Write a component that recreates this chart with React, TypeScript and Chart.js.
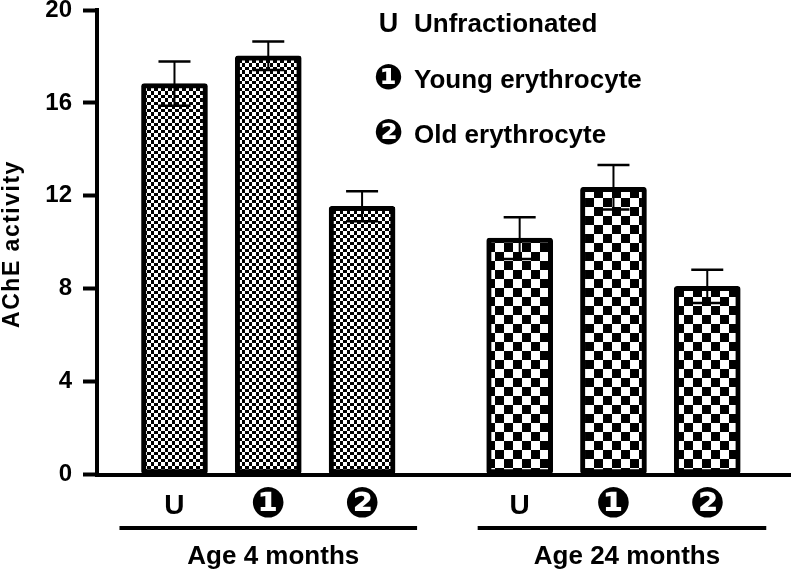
import React, { useEffect, useRef } from 'react';
import { Chart, registerables } from 'chart.js';

Chart.register(...registerables);

// ---- data ----
const groupLabels = ['Age 4 months', 'Age 24 months'];
const fractionSymbols = ['U', '❶', '❷'];
const fractionNames = ['Unfractionated', 'Young erythrocyte', 'Old erythrocyte'];
const meanAge4 = [16.83, 18.03, 11.55];
const meanAge24 = [10.18, 12.37, 8.1];
const semAge4 = [0.95, 0.61, 0.65];
const semAge24 = [0.9, 0.96, 0.72];
const yTicks = [0, 4, 8, 12, 16, 20];
const yTitle = 'AChE activity';

// ---- layout constants ----
const W = 792;
const H = 572;
const GROUP_STRIDE = 3.68;
const X_MIN = -0.826;
const X_MAX = 6.562;
const Y_AXIS_WIDTH = 97;
const X_AXIS_HEIGHT = 97.5;
const FONT = '"Liberation Sans", Arial, sans-serif';
const SYM_FONT = '"DejaVu Sans", sans-serif';
const GROUP_LINE_PAD: [number, number][] = [
  [55, 55],
  [42, 59],
];

const xPos = (g: number, i: number) => g * GROUP_STRIDE + i;
const tickPositions: number[] = [];
groupLabels.forEach((_, g) => fractionSymbols.forEach((__, i) => tickPositions.push(xPos(g, i))));

const isLetter = (s: string) => /^[A-Za-z]+$/.test(s);

function makeChecker(a: number, b: number): CanvasPattern | string {
  const size = a + b;
  const tile = document.createElement('canvas');
  tile.width = size;
  tile.height = size;
  const c = tile.getContext('2d');
  if (!c) return '#888';
  c.fillStyle = '#fff';
  c.fillRect(0, 0, size, size);
  c.fillStyle = '#000';
  c.fillRect(a, 0, b, a);
  c.fillRect(0, a, a, b);
  const main = document.createElement('canvas').getContext('2d');
  const p = main ? main.createPattern(tile, 'repeat') : null;
  return p || '#888';
}

const annotate = {
  id: 'annotate',
  afterDatasetsDraw(chart: any) {
    const ctx = chart.ctx as CanvasRenderingContext2D;
    const ys = chart.scales.y;
    const sems = [semAge4, semAge24];
    const means = [meanAge4, meanAge24];
    ctx.save();
    ctx.strokeStyle = '#000';
    chart.data.datasets.forEach((_: any, g: number) => {
      const meta = chart.getDatasetMeta(g);
      meta.data.forEach((el: any, i: number) => {
        const x = el.x;
        const top = ys.getPixelForValue(means[g][i] + sems[g][i]);
        const bot = ys.getPixelForValue(means[g][i] - sems[g][i]);
        ctx.lineWidth = 2;
        ctx.beginPath();
        ctx.moveTo(x, top);
        ctx.lineTo(x, bot);
        ctx.stroke();
        ctx.lineWidth = 2.5;
        ctx.beginPath();
        ctx.moveTo(x - 16, top);
        ctx.lineTo(x + 16, top);
        ctx.moveTo(x - 16, bot);
        ctx.lineTo(x + 16, bot);
        ctx.stroke();
      });
    });
    ctx.restore();
  },
  afterDraw(chart: any) {
    const ctx = chart.ctx as CanvasRenderingContext2D;
    const xs = chart.scales.x;
    const area = chart.chartArea;
    ctx.save();
    ctx.fillStyle = '#000';
    ctx.strokeStyle = '#000';

    // group lines and labels
    groupLabels.forEach((label, g) => {
      const x1 = xs.getPixelForValue(xPos(g, 0)) - GROUP_LINE_PAD[g][0];
      const x2 = xs.getPixelForValue(xPos(g, fractionSymbols.length - 1)) + GROUP_LINE_PAD[g][1];
      const ly = area.bottom + 53.5;
      ctx.lineWidth = 4;
      ctx.beginPath();
      ctx.moveTo(x1, ly);
      ctx.lineTo(x2, ly);
      ctx.stroke();
      ctx.font = `bold 26px ${FONT}`;
      ctx.textAlign = 'center';
      ctx.textBaseline = 'alphabetic';
      ctx.fillText(label, (x1 + x2) / 2 + 5, area.bottom + 89.5);
    });

    // legend
    const symX = 388.5;
    const textX = 414;
    const baselines = [32, 87.5, 143];
    fractionNames.forEach((name, i) => {
      const sym = fractionSymbols[i];
      ctx.textAlign = 'center';
      if (isLetter(sym)) {
        ctx.font = `bold 27px ${FONT}`;
        ctx.textBaseline = 'alphabetic';
        ctx.fillText(sym, symX, baselines[i]);
      } else {
        ctx.font = `bold 35px ${SYM_FONT}`;
        ctx.textBaseline = 'middle';
        ctx.fillText(sym, symX, baselines[i] - 8);
      }
      ctx.font = `bold 26px ${FONT}`;
      ctx.textBaseline = 'alphabetic';
      ctx.textAlign = 'left';
      ctx.fillText(name, textX, baselines[i]);
    });

    // y title
    ctx.save();
    ctx.translate(18.5, 245);
    ctx.rotate(-Math.PI / 2);
    ctx.font = `bold 23px ${FONT}`;
    (ctx as any).letterSpacing = '1.5px';
    ctx.textAlign = 'center';
    ctx.textBaseline = 'alphabetic';
    ctx.fillText(yTitle, 1, 0);
    ctx.restore();

    ctx.restore();
  },
};

export default function App() {
  const ref = useRef<HTMLCanvasElement>(null);
  useEffect(() => {
    const canvas = ref.current;
    if (!canvas) return;
    const patterns = [makeChecker(4, 3), makeChecker(9, 9)];
    const means = [meanAge4, meanAge24];
    const datasets = groupLabels.map((label, g) => ({
      label,
      data: means[g].map((m, i) => ({ x: xPos(g, i), y: m })),
      backgroundColor: patterns[g],
      borderColor: '#000',
      borderWidth: 5,
      borderSkipped: false,
      borderRadius: 3,
      barThickness: 66,
      grouped: false,
    }));
    const chart = new Chart(canvas, {
      type: 'bar',
      data: { datasets } as any,
      options: {
        responsive: false,
        animation: false,
        events: [],
        layout: { padding: { top: 10, right: 2, left: 0, bottom: 0 } },
        plugins: {
          legend: { display: false },
          tooltip: { enabled: false },
        },
        scales: {
          x: {
            type: 'linear',
            min: X_MIN,
            max: X_MAX,
            offset: false,
            afterBuildTicks: (s: any) => {
              s.ticks = tickPositions.map((v) => ({ value: v }));
            },
            afterFit: (s: any) => {
              s.height = X_AXIS_HEIGHT;
              s.paddingLeft = 0;
              s.paddingRight = 0;
            },
            ticks: {
              autoSkip: false,
              maxRotation: 0,
              minRotation: 0,
              padding: 16,
              color: '#000',
              font: (c: any) =>
                isLetter(fractionSymbols[c.index % fractionSymbols.length])
                  ? { family: FONT, weight: 'bold', size: 28, lineHeight: '31px' }
                  : { family: SYM_FONT, weight: 'bold', size: 42, lineHeight: '31px' },
              callback: (_v: any, i: number) => fractionSymbols[i % fractionSymbols.length],
            },
            grid: { display: true, drawOnChartArea: false, drawTicks: false, tickLength: 0 },
            border: { display: true, color: '#000', width: 4 },
          },
          y: {
            type: 'linear',
            min: 0,
            max: 20,
            afterBuildTicks: (s: any) => {
              s.ticks = yTicks.map((v) => ({ value: v }));
            },
            afterFit: (s: any) => {
              s.width = Y_AXIS_WIDTH;
              s.paddingTop = 0;
              s.paddingBottom = 0;
            },
            ticks: {
              padding: 11,
              color: '#000',
              font: { family: FONT, weight: 'bold', size: 24 },
            },
            grid: {
              display: true,
              drawOnChartArea: false,
              drawTicks: true,
              tickLength: 14,
              tickWidth: 4,
              tickColor: '#000',
              color: '#000',
            },
            border: { display: true, color: '#000', width: 4 },
          },
        },
      } as any,
      plugins: [annotate],
    });
    return () => chart.destroy();
  }, []);
  return (
    <div style={{ position: 'fixed', left: 0, top: 0, width: W, height: H, background: '#fff' }}>
      <canvas ref={ref} width={W} height={H} style={{ display: 'block', width: W, height: H }} />
    </div>
  );
}
